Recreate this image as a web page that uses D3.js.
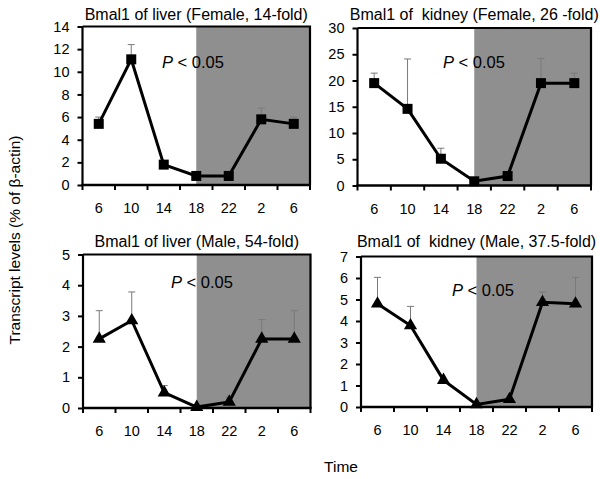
<!DOCTYPE html>
<html>
<head>
<meta charset="utf-8">
<script src="https://cdn.jsdelivr.net/npm/d3@7"></script>
<style>
  body { margin: 0; background: #fff; }
  svg { display: block; font-family: "Liberation Sans", Arial, sans-serif; }
  text { white-space: pre; }
</style>
</head>
<body>
<svg id="chart" width="600" height="479"></svg>
<script>
// ---- data ----
const timeLabels = ["6", "10", "14", "18", "22", "2", "6"];
const darkStartIndex = 3; // dark phase begins at time 18

const titles = [
  "Bmal1 of liver (Female, 14-fold)",
  "Bmal1 of  kidney (Female, 26 -fold)",
  "Bmal1 of liver (Male, 54-fold)",
  "Bmal1 of  kidney (Male, 37.5-fold)"
];

const liverFemaleMean = [5.4, 11.1, 1.8, 0.8, 0.8, 5.8, 5.4];
const liverFemaleErr  = [0.6, 1.3, 0.1, 0.05, 0.05, 1.0, 0.6];

const kidneyFemaleMean = [19.5, 14.6, 5.1, 0.8, 1.8, 19.5, 19.5];
const kidneyFemaleErr  = [1.9, 9.5, 2.0, 0.1, 0.1, 4.7, 1.9];

const liverMaleMean = [2.25, 2.85, 0.5, 0.03, 0.2, 2.25, 2.25];
const liverMaleErr  = [0.92, 0.93, 0.23, 0.02, 0.15, 0.63, 0.92];

const kidneyMaleMean = [4.8, 3.79, 1.25, 0.12, 0.36, 4.87, 4.8];
const kidneyMaleErr  = [1.23, 0.89, 0.05, 0.02, 0.02, 0.48, 1.23];

const yMaxes = [14, 30, 5, 7];
const yStepTicks = [2, 5, 1, 1];
const markerTypes = ["square", "square", "triangle", "triangle"];
const pText = "< 0.05";

// ---- layout ----
const panels = [
  { mean: liverFemaleMean, err: liverFemaleErr, x0: 82.5, x1: 310, y0: 26.5, y1: 185, titleY: 20, px: 162, py: 68 },
  { mean: kidneyFemaleMean, err: kidneyFemaleErr, x0: 357.5, x1: 591, y0: 28, y1: 185.5, titleY: 20, px: 443, py: 68 },
  { mean: liverMaleMean, err: liverMaleErr, x0: 83, x1: 310.5, y0: 254.5, y1: 408, titleY: 247, px: 171, py: 288 },
  { mean: kidneyMaleMean, err: kidneyMaleErr, x0: 361, x1: 592, y0: 256.5, y1: 407, titleY: 247, px: 452, py: 296 }
];

const svg = d3.select("#chart");

panels.forEach((p, i) => {
  const g = svg.append("g");
  const x = d3.scaleBand().domain(d3.range(timeLabels.length)).range([p.x0, p.x1]).padding(0);
  const y = d3.scaleLinear().domain([0, yMaxes[i]]).range([p.y1, p.y0]);

  // dark-phase shading
  const shadeStart = x(darkStartIndex) + x.bandwidth() / 2;
  g.append("rect")
    .attr("x", shadeStart).attr("y", p.y0)
    .attr("width", p.x1 - shadeStart).attr("height", p.y1 - p.y0)
    .attr("fill", "#8f8f8f");

  // frame top/right
  g.append("path")
    .attr("d", `M${p.x0},${p.y0}H${p.x1}V${p.y1}`)
    .attr("fill", "none").attr("stroke", "#000").attr("stroke-width", 2.2);

  // y axis
  const yTicks = d3.range(0, yMaxes[i] + 0.001, yStepTicks[i]);
  const yAxis = g.append("g")
    .attr("transform", `translate(${p.x0},0)`)
    .call(d3.axisLeft(y).tickValues(yTicks).tickSize(5).tickPadding(8).tickFormat(d3.format("d")));
  yAxis.select(".domain").attr("stroke-width", 2.2).attr("d", `M0,${p.y0}V${p.y1}`);
  yAxis.selectAll(".tick line").attr("stroke-width", 2);
  yAxis.selectAll("text").attr("font-size", 14.5).attr("fill", "#000");

  // x axis (ticks at band boundaries)
  const boundaries = d3.range(timeLabels.length + 1).map(k => p.x0 + k * x.bandwidth());
  g.append("line")
    .attr("x1", p.x0 - 1).attr("x2", p.x1 + 1).attr("y1", p.y1).attr("y2", p.y1)
    .attr("stroke", "#000").attr("stroke-width", 2.5);
  g.selectAll(".xt").data(boundaries).join("line")
    .attr("x1", d => d).attr("x2", d => d)
    .attr("y1", p.y1).attr("y2", p.y1 + 5)
    .attr("stroke", "#000").attr("stroke-width", 2);
  g.selectAll(".xl").data(timeLabels).join("text")
    .attr("x", (d, k) => x(k) + x.bandwidth() / 2)
    .attr("y", p.y1 + 28)
    .attr("text-anchor", "middle")
    .attr("font-size", 14.5)
    .text(d => d);

  const cx = k => x(k) + x.bandwidth() / 2;

  // error bars (upper only)
  const eg = g.append("g").attr("stroke", "#7a7a7a").attr("stroke-width", 1);
  p.mean.forEach((m, k) => {
    const top = y(m + p.err[k]);
    eg.append("line").attr("x1", cx(k)).attr("x2", cx(k)).attr("y1", y(m)).attr("y2", top);
    eg.append("line").attr("x1", cx(k) - 3.5).attr("x2", cx(k) + 3.5).attr("y1", top).attr("y2", top);
  });

  // line
  g.append("path")
    .datum(p.mean)
    .attr("d", d3.line().x((d, k) => cx(k)).y(d => y(d)))
    .attr("fill", "none").attr("stroke", "#000").attr("stroke-width", 3);

  // markers
  if (markerTypes[i] === "square") {
    g.selectAll(".m").data(p.mean).join("rect")
      .attr("x", (d, k) => cx(k) - 5).attr("y", d => y(d) - 5)
      .attr("width", 10).attr("height", 10).attr("fill", "#000");
  } else {
    const sym = d3.symbol().type(d3.symbolTriangle).size(75);
    g.selectAll(".m").data(p.mean).join("path")
      .attr("d", sym)
      .attr("transform", (d, k) => `translate(${cx(k)},${y(d)})`)
      .attr("fill", "#000");
  }

  // title
  g.append("text")
    .attr("x", (p.x0 + p.x1) / 2).attr("y", p.titleY)
    .attr("text-anchor", "middle").attr("font-size", 16)
    .text(titles[i]);

  // P < 0.05
  const t = g.append("text").attr("x", p.px).attr("y", p.py).attr("font-size", 16.5);
  t.append("tspan").attr("font-style", "italic").text("P");
  t.append("tspan").text(" " + pText);
});

// axis titles
svg.append("text")
  .attr("transform", "translate(20,240) rotate(-90)")
  .attr("text-anchor", "middle").attr("font-size", 15.5)
  .text("Transcript levels (% of β-actin)");
svg.append("text")
  .attr("x", 341).attr("y", 472)
  .attr("text-anchor", "middle").attr("font-size", 15.5)
  .text("Time");
</script>
</body>
</html>
